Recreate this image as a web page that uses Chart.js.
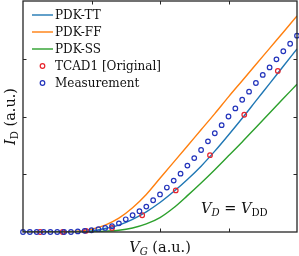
<!DOCTYPE html>
<html>
<head>
<meta charset="utf-8">
<script src="https://cdn.jsdelivr.net/npm/chart.js@4.4.0/dist/chart.umd.min.js"></script>
<style>
  html, body { margin: 0; padding: 0; background: #fff; }
  #wrap { width: 299px; height: 256px; }
</style>
</head>
<body>
<div id="wrap"><canvas id="ivChart" width="299" height="256"></canvas></div>
<script>
// ====== DATA (arbitrary units) ======
const pdkX  = [0, 0.2, 0.4, 0.6, 0.8, 1.0, 1.2, 1.4, 1.6, 1.8, 2.0, 2.2, 2.4, 2.6, 2.8, 3.0, 3.2, 3.4, 3.6, 3.8, 4.0];
const pdkTT = [0, 0, 0, 0.002, 0.008, 0.02, 0.06, 0.12, 0.22, 0.35, 0.51, 0.70, 0.91, 1.14, 1.40, 1.68, 1.97, 2.27, 2.57, 2.87, 3.17];
const pdkFF = [0, 0, 0, 0.005, 0.015, 0.05, 0.12, 0.24, 0.42, 0.65, 0.93, 1.21, 1.49, 1.77, 2.05, 2.34, 2.62, 2.90, 3.18, 3.46, 3.74];
const pdkSS = [0, 0, 0, 0, 0.002, 0.006, 0.015, 0.03, 0.07, 0.14, 0.25, 0.42, 0.63, 0.85, 1.08, 1.32, 1.56, 1.81, 2.06, 2.31, 2.56];

const tcadX = [0.25, 0.58, 0.92, 1.30, 1.74, 2.23, 2.73, 3.23, 3.72];
const tcadY = [0, 0, 0.02, 0.07, 0.29, 0.72, 1.33, 2.03, 2.79];

const measX = [0, 0.1, 0.2, 0.3, 0.4, 0.5, 0.6, 0.7, 0.8, 0.9, 1.0, 1.1, 1.2, 1.3, 1.4, 1.5, 1.6, 1.7, 1.8, 1.9, 2.0,
               2.1, 2.2, 2.3, 2.4, 2.5, 2.6, 2.7, 2.8, 2.9, 3.0, 3.1, 3.2, 3.3, 3.4, 3.5, 3.6, 3.7, 3.8, 3.9, 4.0];
const measY = [0, 0, 0, 0, 0, 0, 0, 0, 0.01, 0.02, 0.03, 0.05, 0.07, 0.10, 0.15, 0.22, 0.29, 0.36, 0.44, 0.55, 0.65,
               0.77, 0.89, 1.01, 1.15, 1.28, 1.42, 1.57, 1.71, 1.85, 2.00, 2.14, 2.29, 2.43, 2.58, 2.72, 2.85, 2.99, 3.13, 3.26, 3.40];

const tickVals = [1, 2, 3];

const seriesNames = ['PDK-TT', 'PDK-FF', 'PDK-SS', 'TCAD1 [Original]', 'Measurement'];

// ====== STYLE ======
const colors = {
  tt: '#1f77b4',
  ff: '#ff7f0e',
  ss: '#2ca02c',
  tcad: '#e8232b',
  meas: '#2233bb',
  axis: '#262626'
};
const FONT = '"DejaVu Serif", serif';

function pts(xs, ys) {
  return xs.map((x, i) => ({ x: x, y: ys[i] }));
}

function lineSet(label, ys, color) {
  return {
    label: label,
    data: pts(pdkX, ys),
    borderColor: color,
    backgroundColor: color,
    borderWidth: 1.4,
    pointRadius: 0,
    cubicInterpolationMode: 'monotone',
    showLine: true,
    fill: false
  };
}

function markerSet(label, xs, ys, color) {
  return {
    label: label,
    data: pts(xs, ys),
    borderColor: color,
    backgroundColor: 'rgba(0,0,0,0)',
    borderWidth: 1.2,
    pointRadius: 2.3,
    showLine: false,
    clip: 3
  };
}

// text with italic / subscript pieces
function richWidth(ctx, parts, size) {
  let w = 0;
  parts.forEach(p => {
    const s = p.sub ? size * 0.7 : size;
    ctx.font = (p.it ? 'italic ' : '') + s + 'px ' + FONT;
    w += ctx.measureText(p.t).width;
  });
  return w;
}
function drawRich(ctx, parts, x, y, size) {
  let cx = x;
  parts.forEach(p => {
    const s = p.sub ? size * 0.7 : size;
    ctx.font = (p.it ? 'italic ' : '') + s + 'px ' + FONT;
    ctx.fillText(p.t, cx, p.sub ? y + size * 0.22 : y);
    cx += ctx.measureText(p.t).width;
  });
}

// ====== FRAME, TICKS, LABELS, LEGEND ======
const decorPlugin = {
  id: 'decor',
  afterDraw(chart) {
    const ctx = chart.ctx;
    const a = chart.chartArea;
    const xs = chart.scales.x, ys = chart.scales.y;
    ctx.save();

    // frame
    ctx.strokeStyle = colors.axis;
    ctx.lineWidth = 1.3;
    ctx.strokeRect(a.left, a.top, a.right - a.left, a.bottom - a.top);

    // inward ticks on all sides
    const tl = 3.5;
    ctx.lineWidth = 1;
    ctx.beginPath();
    tickVals.forEach(v => {
      const px = Math.round(xs.getPixelForValue(v)) + 0.5;
      ctx.moveTo(px, a.bottom); ctx.lineTo(px, a.bottom - tl);
      ctx.moveTo(px, a.top); ctx.lineTo(px, a.top + tl);
      const py = Math.round(ys.getPixelForValue(v)) + 0.5;
      ctx.moveTo(a.left, py); ctx.lineTo(a.left + tl, py);
      ctx.moveTo(a.right, py); ctx.lineTo(a.right - tl, py);
    });
    ctx.stroke();

    // axis titles
    ctx.fillStyle = '#111';
    ctx.textBaseline = 'alphabetic';
    ctx.textAlign = 'left';
    const size = 14.5;
    const xTitle = [{ t: 'V', it: true }, { t: 'G', it: true, sub: true }, { t: ' (a.u.)' }];
    const xw = richWidth(ctx, xTitle, size);
    drawRich(ctx, xTitle, (a.left + a.right) / 2 - xw / 2, 252, size);

    const yTitle = [{ t: 'I', it: true }, { t: 'D', sub: true }, { t: ' (a.u.)' }];
    const yw = richWidth(ctx, yTitle, size);
    ctx.save();
    ctx.translate(15, (a.top + a.bottom) / 2 + yw / 2);
    ctx.rotate(-Math.PI / 2);
    drawRich(ctx, yTitle, 0, 0, size);
    ctx.restore();

    // bias note
    const note = [{ t: 'V', it: true }, { t: 'D', it: true, sub: true }, { t: ' = ' }, { t: 'V', it: true }, { t: 'DD', sub: true }];
    drawRich(ctx, note, 201, 213, size);

    // legend
    const legColors = [colors.tt, colors.ff, colors.ss, colors.tcad, colors.meas];
    ctx.font = '12px ' + FONT;
    ctx.textBaseline = 'middle';
    seriesNames.forEach((name, i) => {
      const y = 15 + i * 17;
      ctx.strokeStyle = legColors[i];
      if (i < 3) {
        ctx.lineWidth = 1.4;
        ctx.beginPath();
        ctx.moveTo(32, y); ctx.lineTo(53, y);
        ctx.stroke();
      } else {
        ctx.lineWidth = 1.2;
        ctx.beginPath();
        ctx.arc(42.5, y, 2.3, 0, Math.PI * 2);
        ctx.stroke();
      }
      ctx.fillStyle = '#111';
      ctx.fillText(name, 55, y + 0.5);
    });

    ctx.restore();
  }
};

// ====== CHART ======
document.addEventListener('DOMContentLoaded', () => {
  const ctx = document.getElementById('ivChart').getContext('2d');
  new Chart(ctx, {
    type: 'scatter',
    data: {
      datasets: [
        markerSet(seriesNames[4], measX, measY, colors.meas),
        markerSet(seriesNames[3], tcadX, tcadY, colors.tcad),
        lineSet(seriesNames[2], pdkSS, colors.ss),
        lineSet(seriesNames[1], pdkFF, colors.ff),
        lineSet(seriesNames[0], pdkTT, colors.tt)
      ]
    },
    options: {
      responsive: false,
      animation: false,
      devicePixelRatio: 1,
      layout: { autoPadding: false, padding: { left: 23, right: 2, top: 1, bottom: 24 } },
      plugins: { legend: { display: false }, tooltip: { enabled: false } },
      scales: {
        x: { type: 'linear', min: 0, max: 4, display: false },
        y: { type: 'linear', min: 0, max: 4, display: false }
      }
    },
    plugins: [decorPlugin]
  });
});
</script>
</body>
</html>
